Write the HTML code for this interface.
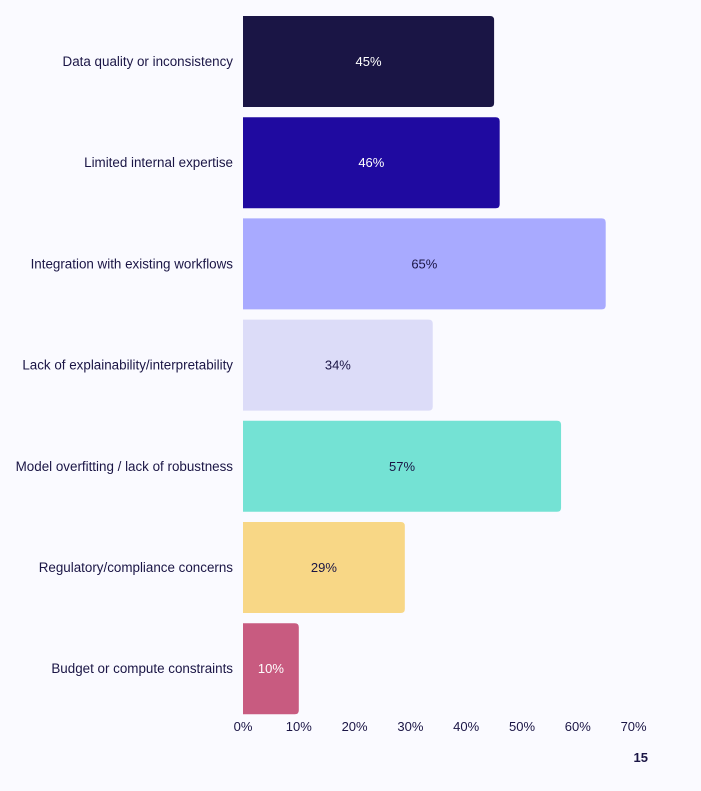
<!DOCTYPE html>
<html><head><meta charset="utf-8"><style>
html,body{margin:0;padding:0;background:#fafaff;}
svg{display:block;font-family:"Liberation Sans",sans-serif;}
</style></head><body>
<svg id="chart" width="701" height="791" viewBox="0 0 701 791" xmlns="http://www.w3.org/2000/svg">
<rect x="0" y="0" width="701" height="791" fill="#fafaff"/>
<g id="bars"></g>
<g id="xaxis"></g>
<text x="648" y="762" text-anchor="end" font-size="13" font-weight="bold" fill="#1a1545">15</text>
</svg>
<script>
const categories = ["Data quality or inconsistency","Limited internal expertise","Integration with existing workflows","Lack of explainability/interpretability","Model overfitting / lack of robustness","Regulatory/compliance concerns","Budget or compute constraints"];
const values = [45,46,65,34,57,29,10];
const colors = ["#1a1545","#1f0aa0","#a8aaff","#dcdcf8","#74e2d4","#f8d786","#c85b80"];
const labelColors = ["#ffffff","#ffffff","#1a1545","#1a1545","#1a1545","#1a1545","#ffffff"];
const ticks = [0,10,20,30,40,50,60,70];
const NS="http://www.w3.org/2000/svg";
const x0=243, pxPer=5.58, barTop=16, step=101.2, bh=91;
const xs=v=>x0+v*pxPer;
const ys=i=>barTop+i*step;
const gb=document.getElementById('bars'), gx=document.getElementById('xaxis');
function mk(tag,attrs,parent){const e=document.createElementNS(NS,tag);for(const k in attrs)e.setAttribute(k,attrs[k]);parent.appendChild(e);return e;}
values.forEach((v,i)=>{
  const w=xs(v)-x0, y=ys(i), r=4;
  const p=mk('path',{d:`M${x0},${y}H${x0+w-r}Q${x0+w},${y} ${x0+w},${y+r}V${y+bh-r}Q${x0+w},${y+bh} ${x0+w-r},${y+bh}H${x0}Z`,fill:colors[i]},gb);
  
  
  const t=mk('text',{x:x0+w/2,y:y+bh/2+4.5,'text-anchor':'middle','font-size':'13',fill:labelColors[i]},gb);
  t.textContent=v+'%';
  
  
  const c=mk('text',{x:233,y:y+bh/2+4.5,'text-anchor':'end','font-size':'13.4',fill:'#1a1545'},gb);
  c.textContent=categories[i];
  
  
});
ticks.forEach(tv=>{
  const t=mk('text',{x:xs(tv),y:731,'text-anchor':'middle','font-size':'13',fill:'#1a1545'},gx);
  t.textContent=tv+'%';
  
  
});
</script>
</body></html>
